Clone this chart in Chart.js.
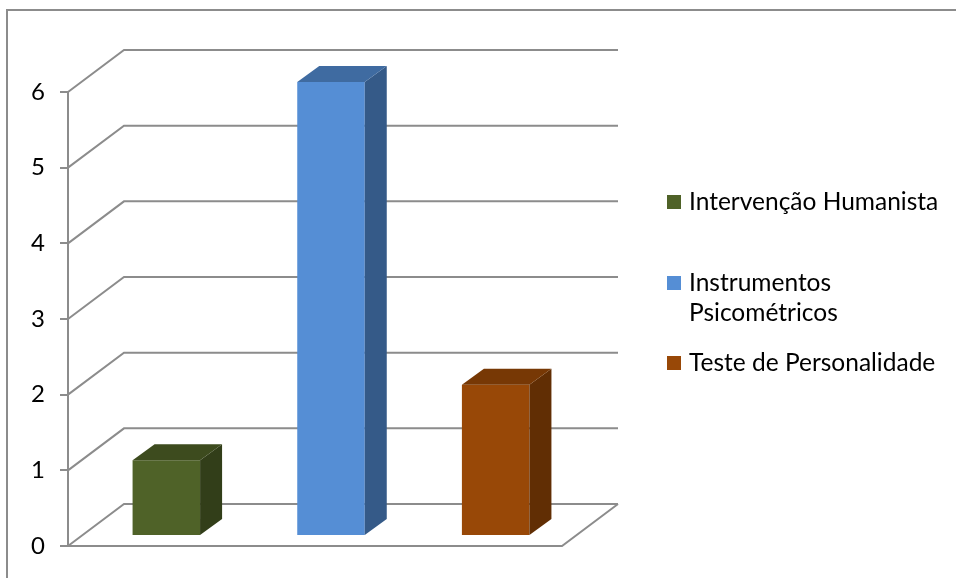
<!DOCTYPE html>
<html>
<head>
<meta charset="utf-8">
<script src="https://cdn.jsdelivr.net/npm/chart.js@4.4.0/dist/chart.umd.min.js"></script>
<style>
  body { margin: 0; background: #fff; }
  #box { width: 956px; height: 578px; position: relative; }
</style>
</head>
<body>
<div id="box"><canvas id="grafico" width="956" height="578"></canvas></div>
<script>
// dados do grafico
var categorias = ['Intervenção Humanista', 'Instrumentos Psicométricos', 'Teste de Personalidade'];
var legendaLinhas = [['Intervenção Humanista'], ['Instrumentos', 'Psicométricos'], ['Teste de Personalidade']];
var valores = [1, 6, 2];
var eixoY = [0, 1, 2, 3, 4, 5, 6];

var corFrente = ['#4F6228', '#558ED5', '#984807'];
var corLado = ['#323E19', '#355A88', '#612E04'];
var corTopo = ['#3D4B1E', '#3F6BA1', '#773805'];

var FONTE = 'Lato, "Open Sans", sans-serif';
var CINZA = '#8c8c8c';

// deslocamentos do efeito 3d
var fundoX = 56, fundoY = -42;   // parede do fundo
var barraX = 16, barraY = -10;   // plano das barras
var profX = 22, profY = -16;     // profundidade das barras

var paredes = {
  id: 'paredes',
  beforeDatasetsDraw: function(chart) {
    var ctx = chart.ctx, a = chart.chartArea, y = chart.scales.y;
    ctx.save();
    // moldura
    ctx.strokeStyle = CINZA;
    ctx.lineWidth = 2;
    ctx.beginPath();
    ctx.moveTo(7, 578); ctx.lineTo(7, 10); ctx.lineTo(956, 10);
    ctx.stroke();
    eixoY.forEach(function(v) {
      var py = y.getPixelForValue(v);
      ctx.beginPath();
      ctx.moveTo(a.left, py);
      ctx.lineTo(a.left + fundoX, py + fundoY);
      ctx.lineTo(a.right + fundoX, py + fundoY);
      ctx.stroke();
    });
    // chao
    var p0 = y.getPixelForValue(0);
    ctx.beginPath();
    ctx.moveTo(a.left, p0);
    ctx.lineTo(a.right, p0);
    ctx.lineTo(a.right + fundoX, p0 + fundoY);
    ctx.stroke();
    ctx.restore();
    ctx.save();
    ctx.translate(barraX, barraY);
  },
  afterDatasetsDraw: function(chart) {
    var ctx = chart.ctx;
    chart.getDatasetMeta(0).data.forEach(function(bar, i) {
      var p = bar.getProps(['x', 'y', 'base', 'width'], true);
      var l = p.x - p.width / 2, r = p.x + p.width / 2;
      // lado
      ctx.fillStyle = corLado[i];
      ctx.beginPath();
      ctx.moveTo(r, p.y); ctx.lineTo(r + profX, p.y + profY);
      ctx.lineTo(r + profX, p.base + profY); ctx.lineTo(r, p.base);
      ctx.closePath(); ctx.fill();
      // topo
      ctx.fillStyle = corTopo[i];
      ctx.beginPath();
      ctx.moveTo(l, p.y); ctx.lineTo(l + profX, p.y + profY);
      ctx.lineTo(r + profX, p.y + profY); ctx.lineTo(r, p.y);
      ctx.closePath(); ctx.fill();
    });
    ctx.restore();
  },
  afterDraw: function(chart) {
    // legenda
    var ctx = chart.ctx;
    var yPos = [202, 283, 363];
    ctx.save();
    ctx.font = '24.5px ' + FONTE;
    ctx.textBaseline = 'middle';
    legendaLinhas.forEach(function(linhas, i) {
      ctx.fillStyle = corFrente[i];
      ctx.fillRect(667, yPos[i] - 7, 14, 14);
      ctx.fillStyle = '#000';
      linhas.forEach(function(t, k) {
        ctx.fillText(t, 689, yPos[i] + k * 30);
      });
    });
    ctx.restore();
  }
};

new Chart(document.getElementById('grafico'), {
  type: 'bar',
  data: {
    labels: categorias,
    datasets: [{
      data: valores,
      backgroundColor: corFrente,
      borderWidth: 0,
      barPercentage: 0.41,
      categoryPercentage: 1
    }]
  },
  options: {
    responsive: false,
    animation: false,
    layout: { padding: { left: 8, right: 394, top: 92, bottom: 32 } },
    plugins: { legend: { display: false }, tooltip: { enabled: false } },
    scales: {
      x: { display: false },
      y: {
        min: 0, max: 6,
        afterFit: function(s) { s.width = 60; },
        ticks: { stepSize: 1, padding: 15, color: '#000', font: { family: FONTE, size: 24 } },
        grid: { drawOnChartArea: false, tickLength: 8, color: CINZA, lineWidth: 2 },
        border: { display: true, color: CINZA, width: 2 }
      }
    }
  },
  plugins: [paredes]
});
</script>
</body>
</html>
